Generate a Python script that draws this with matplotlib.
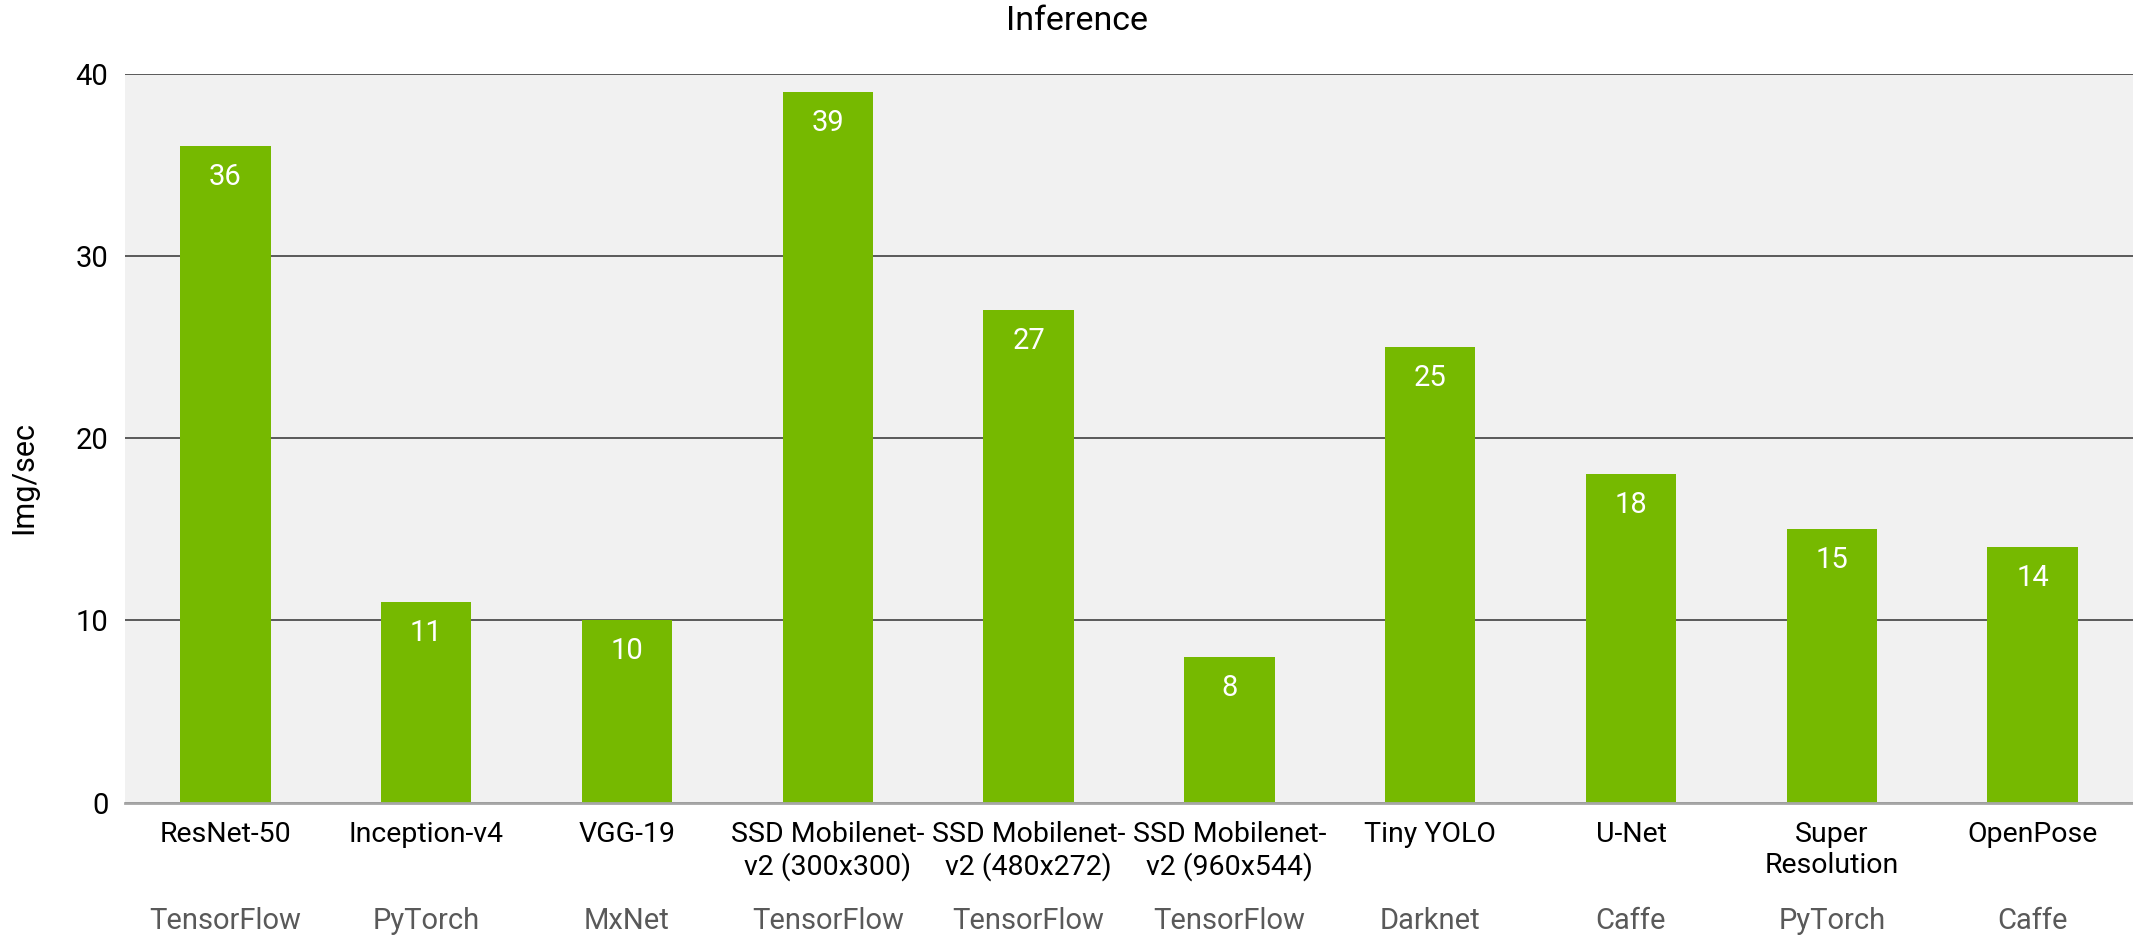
import matplotlib
matplotlib.use("Agg")
import matplotlib.pyplot as plt
import numpy as np

models = ["ResNet-50", "Inception-v4", "VGG-19", "SSD Mobilenet-\nv2 (300x300)",
          "SSD Mobilenet-\nv2 (480x272)", "SSD Mobilenet-\nv2 (960x544)",
          "Tiny YOLO", "U-Net", "Super\nResolution", "OpenPose"]
frameworks = ["TensorFlow", "PyTorch", "MxNet", "TensorFlow", "TensorFlow",
              "TensorFlow", "Darknet", "Caffe", "PyTorch", "Caffe"]
img_per_sec = [36, 11, 10, 39, 27, 8, 25, 18, 15, 14]

plt.rcParams["font.family"] = ["Roboto", "DejaVu Sans"]

fig = plt.figure(figsize=(21.33, 9.39), dpi=100)
ax = fig.add_axes([0.0586, 0.1453, 0.9414, 0.7764])
ax.set_facecolor("#f1f1f1")

x = np.arange(len(models))
ax.bar(x, img_per_sec, width=0.45, color="#76b900", zorder=3)

for xi, v in zip(x, img_per_sec):
    ax.text(xi, v - 1.7, str(v), ha="center", va="center", color="white",
            fontsize=21, zorder=4)

ax.set_xlim(-0.5, len(models) - 0.5)
ax.set_ylim(0, 40)
ax.set_yticks([0, 10, 20, 30, 40])
ax.yaxis.grid(True, color="#404040", linewidth=1.2, zorder=1)
ax.set_axisbelow(True)
for s in ["left", "right", "top"]:
    ax.spines[s].set_visible(False)
ax.spines["bottom"].set_color("#a6a6a6")
ax.spines["bottom"].set_linewidth(2)
ax.spines["bottom"].set_zorder(5)

ax.set_xticks(x)
ax.set_xticklabels(models, fontsize=20.5, va="top", linespacing=1.2)
ax.tick_params(axis="x", length=0, pad=13)
ax.tick_params(axis="y", length=0, pad=12, labelsize=21)

for xi, fw in zip(x, frameworks):
    ax.text(xi, -0.162, fw, transform=ax.get_xaxis_transform(), ha="center",
            va="center", fontsize=21, color="#595959")

ax.set_ylabel("Img/sec", fontsize=22)
ax.yaxis.set_label_coords(-0.043, 0.446)
fig.text(0.505, 0.978, "Inference", ha="center", va="center", fontsize=24.5)

fig.savefig("out.png", dpi=100)
